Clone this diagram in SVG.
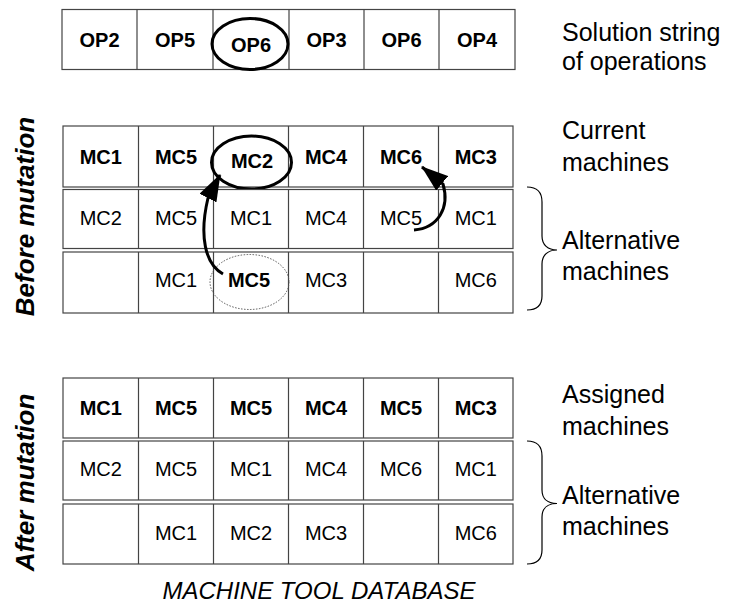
<svg xmlns="http://www.w3.org/2000/svg" width="732" height="603" viewBox="0 0 732 603">
<style>
.cell{fill:#fff;stroke:#444;stroke-width:1.2}
.div{stroke:#444;stroke-width:1.2}
.t{font-family:"Liberation Sans",Arial,sans-serif;font-size:20px;text-anchor:middle;fill:#000}
.b{font-weight:bold}
.lab{font-family:"Liberation Sans",Arial,sans-serif;font-size:25px;fill:#000}
.side{font-family:"Liberation Sans",Arial,sans-serif;font-size:26px;font-weight:bold;font-style:italic;text-anchor:middle;fill:#000}
.ring{fill:none;stroke:#000;stroke-width:3}
.dot{fill:none;stroke:#555;stroke-width:1;stroke-dasharray:1.5 1.5}
.brace{fill:none;stroke:#000;stroke-width:1.2}
.arr{fill:none;stroke:#000;stroke-width:3;marker-end:url(#ah)}
</style>
<defs>
<marker id="ah" markerUnits="userSpaceOnUse" viewBox="0 0 27 19" markerWidth="27" markerHeight="19" refX="26" refY="9.5" orient="auto">
<path d="M0,0 L27,9.5 L0,19 z" fill="#000"/>
</marker>
</defs>
<rect width="732" height="603" fill="#fff"/>

<g id="solution-string">
<rect class="cell" x="62" y="9.5" width="453" height="60"/>
<path class="div" d="M137,9.5V69.5M213,9.5V69.5M289,9.5V69.5M364,9.5V69.5M439,9.5V69.5"/>
<text class="t b" x="99.5" y="46.5">OP2</text>
<text class="t b" x="175" y="46.5">OP5</text>
<text class="t b" x="251" y="51.5">OP6</text>
<text class="t b" x="326.5" y="46.5">OP3</text>
<text class="t b" x="401.5" y="46.5">OP6</text>
<text class="t b" x="477" y="46.5">OP4</text>
<ellipse class="ring" cx="250" cy="44" rx="38" ry="25.5"/>
</g>

<g id="before-current">
<rect class="cell" x="63" y="126" width="450" height="61"/>
<path class="div" d="M138.5,126V187M213.5,126V187M288.5,126V187M363.5,126V187M438.5,126V187"/>
<text class="t b" x="100.75" y="163.5">MC1</text>
<text class="t b" x="176" y="163.5">MC5</text>
<text class="t b" x="252" y="167.5">MC2</text>
<text class="t b" x="326" y="163.5">MC4</text>
<text class="t b" x="401" y="163.5">MC6</text>
<text class="t b" x="475.75" y="163.5">MC3</text>
<ellipse class="ring" cx="251.5" cy="162.5" rx="40" ry="26.5"/>
</g>

<g id="before-alt1">
<rect class="cell" x="63" y="189.5" width="450" height="59"/>
<path class="div" d="M138.5,189.5V248.5M213.5,189.5V248.5M288.5,189.5V248.5M363.5,189.5V248.5M438.5,189.5V248.5"/>
<text class="t" x="100.75" y="225">MC2</text>
<text class="t" x="176" y="225">MC5</text>
<text class="t" x="251" y="225">MC1</text>
<text class="t" x="326" y="225">MC4</text>
<text class="t" x="401" y="225">MC5</text>
<text class="t" x="475.75" y="225">MC1</text>
</g>

<g id="before-alt2">
<rect class="cell" x="63" y="252" width="450" height="61"/>
<path class="div" d="M138.5,252V313M213.5,252V313M288.5,252V313M363.5,252V313M438.5,252V313"/>
<text class="t" x="176" y="287">MC1</text>
<text class="t b" x="249" y="287">MC5</text>
<text class="t" x="326" y="287">MC3</text>
<text class="t" x="475.75" y="287">MC6</text>
<ellipse class="dot" cx="249.5" cy="282" rx="39.5" ry="27.5"/>
</g>

<g id="connectors">
<path class="arr" d="M223,274 C205,264 199,236 208,198 L220,175"/>
<path class="arr" d="M414,230 C438,228 450,208 443,184 L422,167"/>
</g>

<g id="after-assigned">
<rect class="cell" x="63" y="378" width="450" height="60"/>
<path class="div" d="M138.5,378V438M213.5,378V438M288.5,378V438M363.5,378V438M438.5,378V438"/>
<text class="t b" x="100.75" y="415">MC1</text>
<text class="t b" x="176" y="415">MC5</text>
<text class="t b" x="251" y="415">MC5</text>
<text class="t b" x="326" y="415">MC4</text>
<text class="t b" x="401" y="415">MC5</text>
<text class="t b" x="475.75" y="415">MC3</text>
</g>

<g id="after-alt1">
<rect class="cell" x="63" y="441" width="450" height="59"/>
<path class="div" d="M138.5,441V500M213.5,441V500M288.5,441V500M363.5,441V500M438.5,441V500"/>
<text class="t" x="100.75" y="476">MC2</text>
<text class="t" x="176" y="476">MC5</text>
<text class="t" x="251" y="476">MC1</text>
<text class="t" x="326" y="476">MC4</text>
<text class="t" x="401" y="476">MC6</text>
<text class="t" x="475.75" y="476">MC1</text>
</g>

<g id="after-alt2">
<rect class="cell" x="63" y="504" width="450" height="60"/>
<path class="div" d="M138.5,504V564M213.5,504V564M288.5,504V564M363.5,504V564M438.5,504V564"/>
<text class="t" x="176" y="540">MC1</text>
<text class="t" x="251" y="540">MC2</text>
<text class="t" x="326" y="540">MC3</text>
<text class="t" x="475.75" y="540">MC6</text>
</g>

<g id="labels">
<text class="lab" x="562" y="41">Solution string</text>
<text class="lab" x="562" y="70">of operations</text>
<text class="lab" x="562" y="139">Current</text>
<text class="lab" x="562" y="171">machines</text>
<text class="lab" x="562" y="249">Alternative</text>
<text class="lab" x="562" y="280">machines</text>
<text class="lab" x="562" y="403">Assigned</text>
<text class="lab" x="562" y="435">machines</text>
<text class="lab" x="562" y="504">Alternative</text>
<text class="lab" x="562" y="535">machines</text>
<path class="brace" d="M527,187 C537,187 542,192 542,202 L542,236 C542,245 548,250 557,250 C548,250 542,255 542,264 L542,296 C542,306 537,310 527,310"/>
<path class="brace" d="M527,441 C537,441 542,446 542,456 L542,490 C542,499 548,503.5 557,503.5 C548,503.5 542,508 542,517 L542,550 C542,560 537,564 527,564"/>
<text class="side" transform="translate(34,216.5) rotate(-90)">Before mutation</text>
<text class="side" transform="translate(34,482.5) rotate(-90)">After mutation</text>
<text x="319" y="599" font-family="Liberation Sans, Arial, sans-serif" font-size="24" font-style="italic" text-anchor="middle">MACHINE TOOL DATABASE</text>
</g>
</svg>
